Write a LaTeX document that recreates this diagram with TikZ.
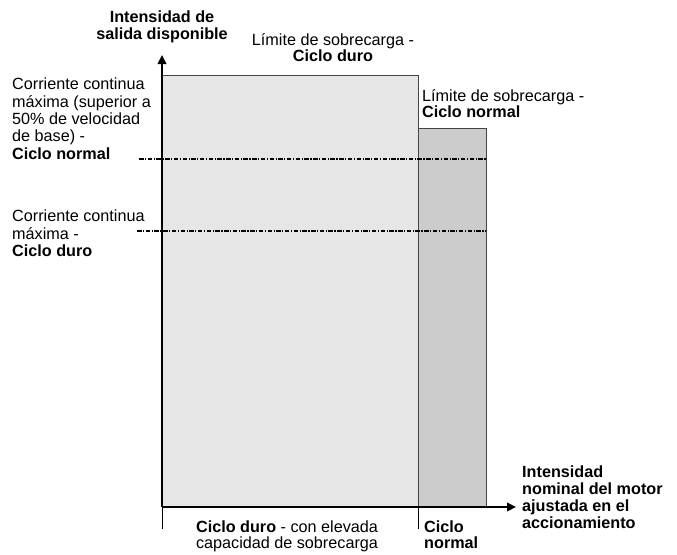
\documentclass[tikz,border=0pt]{standalone}
\usepackage{fontspec}
\setmainfont{Liberation Sans}
\usetikzlibrary{arrows.meta}
\definecolor{lightfill}{HTML}{E6E6E6}
\definecolor{darkfill}{HTML}{CCCCCC}
\definecolor{edgegray}{HTML}{444444}
\begin{document}
\begin{tikzpicture}[x=1pt,y=-1pt,
  lbl/.style={inner sep=0pt, font=\fontsize{16.2}{17}\selectfont},
  axisline/.style={line width=2.2pt, -{Triangle[length=9pt,width=8.5pt]}},
  tickline/.style={line width=1pt},
  dashdot/.style={line width=1.3pt, dash pattern=on 4.5pt off 1.5pt on 1.2pt off 1.5pt},
  barbox/.style={draw=edgegray, line width=0.9pt}]
\useasboundingbox (0,0) rectangle (677,554);
% coordinates
\coordinate (origin) at (162,507);
\coordinate (ytip) at (162,55);
\coordinate (xtip) at (516,507);
\coordinate (tickA) at (162,529);
\coordinate (tickB) at (418,529);
\coordinate (baseB) at (418,507);
\coordinate (hdtop) at (418,75);
\coordinate (ndtop) at (486,128);
\coordinate (d1s) at (139,159);
\coordinate (d1e) at (486,159);
\coordinate (d2s) at (137,231);
\coordinate (d2e) at (486,231);
% bars
\draw[barbox, fill=lightfill] (origin) rectangle (hdtop);
\draw[barbox, fill=darkfill] (baseB) rectangle (ndtop);
% dash-dot levels
\draw[dashdot] (d1s) -- (d1e);
\draw[dashdot] (d2s) -- (d2e);
% ticks
\draw[tickline] (origin) -- (tickA);
\draw[tickline] (baseB) -- (tickB);
% axes
\draw[axisline] (origin) -- (ytip);
\draw[axisline] (origin) -- (xtip);
% labels
\node[lbl, anchor=north, align=center, font=\fontsize{16.2}{16.7}\selectfont\bfseries] (ylab) at (162,11) {Intensidad de\\salida disponible};
\node[lbl, anchor=north, align=center, font=\fontsize{16.2}{15.5}\selectfont] (hdlim) at (333,33.5) {Límite de sobrecarga -\\\textbf{Ciclo duro}};
\node[lbl, anchor=north west, align=left, font=\fontsize{16.2}{16.2}\selectfont] (ndlim) at (422,89.5) {Límite de sobrecarga -\\\textbf{Ciclo normal}};
\node[lbl, anchor=north west, align=left, font=\fontsize{16.2}{17.3}\selectfont] (ndcont) at (12,78) {Corriente continua\\máxima (superior a\\50\% de velocidad\\de base) -\\\textbf{Ciclo normal}};
\node[lbl, anchor=north west, align=left, font=\fontsize{16.2}{17.3}\selectfont] (hdcont) at (12,210) {Corriente continua\\máxima -\\\textbf{Ciclo duro}};
\node[lbl, anchor=north, align=center, font=\fontsize{16.2}{16}\selectfont] (hdrange) at (287,521) {\textbf{Ciclo duro} - con elevada\\capacidad de sobrecarga};
\node[lbl, anchor=north west, align=left, font=\fontsize{16.2}{16.5}\selectfont\bfseries] (ndrange) at (424,520.5) {Ciclo\\normal};
\node[lbl, anchor=north west, align=left, font=\fontsize{16.2}{17}\selectfont\bfseries] (xlab) at (522,466) {Intensidad\\nominal del motor\\ajustada en el\\accionamiento};
\end{tikzpicture}
\end{document}
